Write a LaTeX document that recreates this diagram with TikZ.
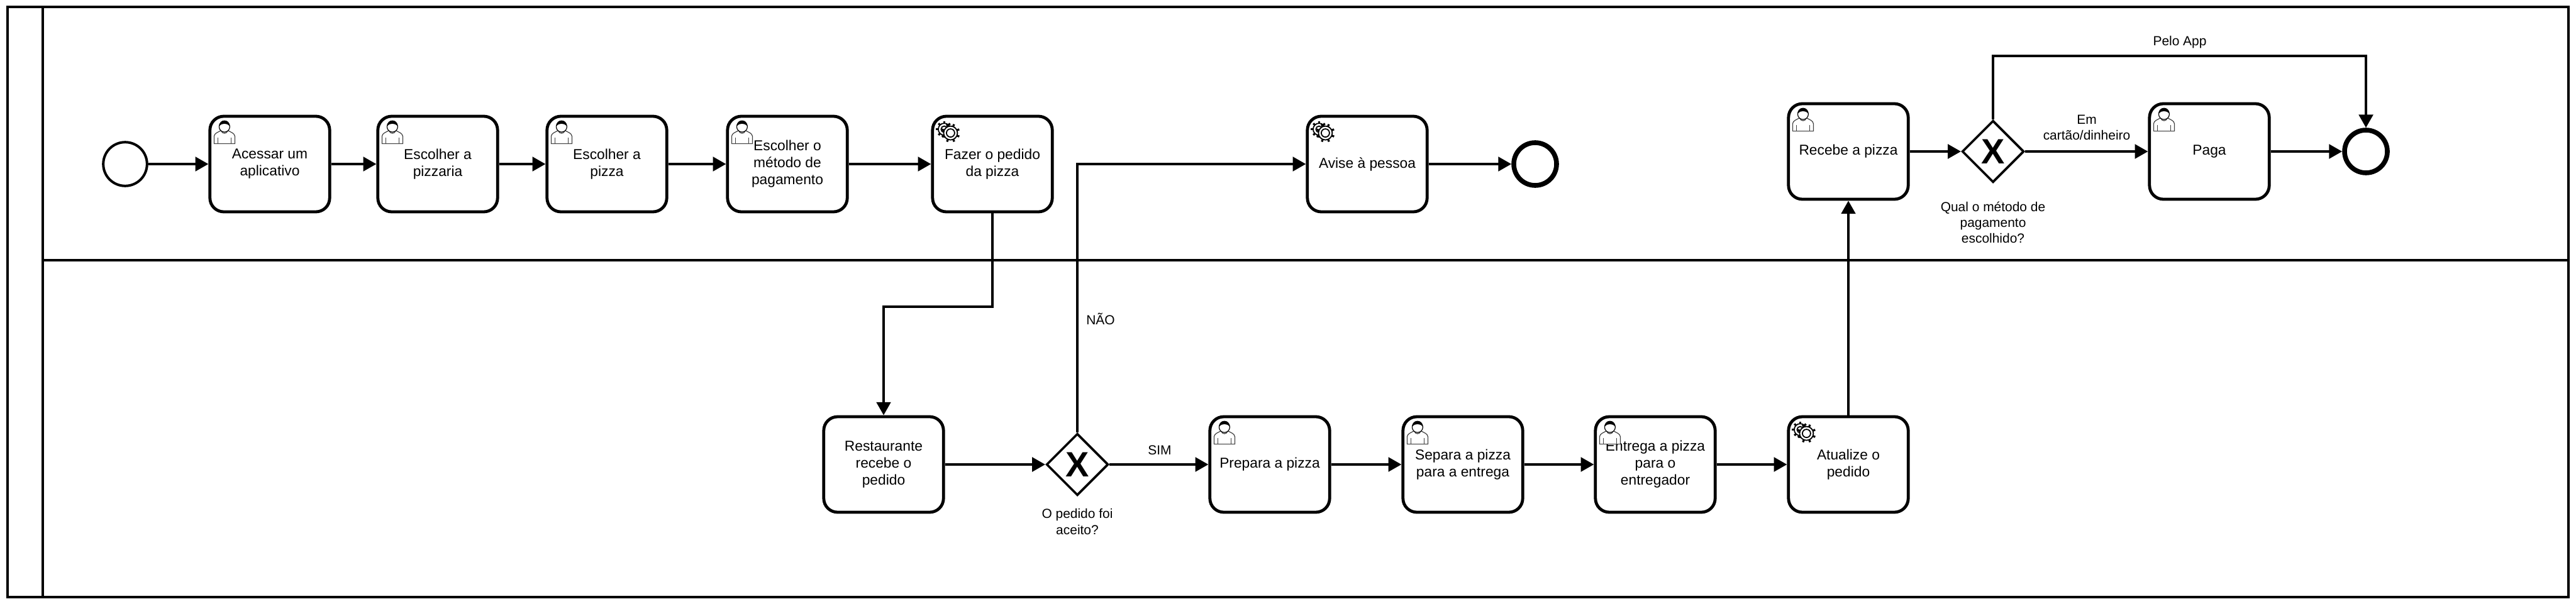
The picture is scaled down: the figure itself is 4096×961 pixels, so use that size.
\documentclass[tikz,border=0pt]{standalone}
\usepackage{fontspec}
\setmainfont{Liberation Sans}
\usetikzlibrary{arrows.meta}
\usetikzlibrary{shapes.geometric}
\begin{document}
\begin{tikzpicture}[
        x=0.25mm, y=-0.25mm,
        fluxo/.style={-{Triangle[length=5.2mm, width=5.6mm]}, line width=1mm},
        raia/.style={line width=1.1mm},
        tarefa/.style={draw, rounded corners=5.5mm, line width=1.2mm, minimum width=47.6mm, minimum height=38mm, align=center, font=\fontsize{16.2pt}{19.2pt}\selectfont},
        porta/.style={draw, diamond, aspect=1, line width=0.9mm, minimum width=24.6mm, minimum height=24.6mm, inner sep=0pt, font=\fontsize{39.8pt}{40pt}\selectfont\bfseries},
        inicio/.style={draw, circle, line width=1mm, minimum size=17.4mm, inner sep=0pt},
        fim/.style={draw, circle, line width=1.9mm, minimum size=17mm, inner sep=0pt},
        rotulo/.style={align=center, font=\fontsize{14.9pt}{17.8pt}\selectfont},
        usuario/.pic={
            \draw[line width=0.3mm, black!75, fill=white] (9,46) -- (9,34) .. controls (10,29) and (15,28) .. (20,25) .. controls (22,31) and (29,31) .. (31,25) .. controls (36,28) and (41,29) .. (42,34) -- (42,46) -- cycle;
            \draw[line width=0.3mm, black!75] (15,36) -- (15,46) (36,36) -- (36,46);
            \draw[line width=0.3mm, fill=white] (25.5,19) circle (8.5);
            \fill (17,18) .. controls (17,6) and (34,6) .. (34,18) .. controls (30,13) and (21,13) .. (17,18) -- cycle;
        },
        engrenagem/.pic={
            \foreach \a in {0,45,...,315} \draw[line width=0.8mm] (21,23) ++(\a:8) -- ++(\a:5);
            \draw[line width=0.45mm, fill=white] (21,23) circle (9.5);
            \draw[line width=0.45mm] (21,23) circle (5);
            \foreach \a in {22,67,...,337} \draw[line width=0.8mm] (31,29) ++(\a:9) -- ++(\a:6);
            \draw[line width=0.45mm, fill=white] (31,29) circle (11);
            \draw[line width=0.45mm] (31,29) circle (6.5);
        }
    ]
        \useasboundingbox (0,0) rectangle (4096,961);

        % --- Raias ---
        \draw[raia] (12,11) rectangle (4084,950);
        \draw[raia] (68,11) -- (68,950);
        \draw[raia] (68,414) -- (4084,414);

        % --- Primeira raia ---
        \node[inicio] (inicioA) at (199,261) {};
        \node[tarefa] (acessar) at (429,261) {Acessar um\\aplicativo};
        \node[tarefa] (pizzaria) at (696,261) {Escolher a\\pizzaria};
        \node[tarefa] (pizza) at (965,261) {Escolher a\\pizza};
        \node[tarefa] (metodo) at (1252,261) {Escolher o\\método de\\pagamento};
        \node[tarefa] (fazer) at (1578,261) {Fazer o pedido\\da pizza};
        \node[tarefa] (avise) at (2174,261) {Avise à pessoa};
        \node[fim] (fimA) at (2441,261) {};
        \node[tarefa] (recebe) at (2939,241) {Recebe a pizza};
        \node[porta] (portaB) at (3169,241) {X};
        \node[tarefa] (paga) at (3513,241) {Paga};
        \node[fim] (fimB) at (3762,241) {};

        % --- Segunda raia ---
        \node[tarefa] (restaurante) at (1405,739) {Restaurante\\recebe o\\pedido};
        \node[porta] (portaA) at (1713,739) {X};
        \node[tarefa] (prepara) at (2019,739) {Prepara a pizza};
        \node[tarefa] (separa) at (2326,739) {Separa a pizza\\para a entrega};
        \node[tarefa] (entrega) at (2632,739) {Entrega a pizza\\para o\\entregador};
        \node[tarefa] (atualize) at (2939,739) {Atualize o\\pedido};

        % --- Icones ---
        \foreach \t in {acessar,pizzaria,pizza,metodo,recebe,paga,prepara,separa,entrega}
            \pic at (\t.north west) {usuario};
        \foreach \t in {fazer,avise,atualize}
            \pic at (\t.north west) {engrenagem};

        % --- Fluxos ---
        \coordinate (dobraA) at (1500,488);
        \coordinate (dobraB) at (3466,89);
        \draw[fluxo] (inicioA) -- (acessar);
        \draw[fluxo] (acessar) -- (pizzaria);
        \draw[fluxo] (pizzaria) -- (pizza);
        \draw[fluxo] (pizza) -- (metodo);
        \draw[fluxo] (metodo) -- (fazer);
        \draw[fluxo] (avise) -- (fimA);
        \draw[fluxo] (fazer.south) |- (dobraA) -| (restaurante.north);
        \draw[fluxo] (restaurante) -- (portaA);
        \draw[fluxo] (portaA.north) |- (avise.west);
        \draw[fluxo] (portaA) -- (prepara);
        \draw[fluxo] (prepara) -- (separa);
        \draw[fluxo] (separa) -- (entrega);
        \draw[fluxo] (entrega) -- (atualize);
        \draw[fluxo] (atualize) -- (recebe);
        \draw[fluxo] (recebe) -- (portaB);
        \draw[fluxo] (portaB) -- (paga);
        \draw[fluxo] (paga) -- (fimB);
        \draw[fluxo] (portaB.north) |- (dobraB) -| (fimB.north);

        % --- Rotulos ---
        \node[rotulo] (nao) at (1750,507) {NÃO};
        \node[rotulo] (sim) at (1844,716) {SIM};
        \node[rotulo] (aceito) at (1713,830) {O pedido foi\\aceito?};
        \node[rotulo] (pelo) at (3466,67) {Pelo App};
        \node[rotulo] (cartao) at (3318,203) {Em\\cartão/dinheiro};
        \node[rotulo] (qual) at (3169,354) {Qual o método de\\pagamento\\escolhido?};
    \end{tikzpicture}
\end{document}
